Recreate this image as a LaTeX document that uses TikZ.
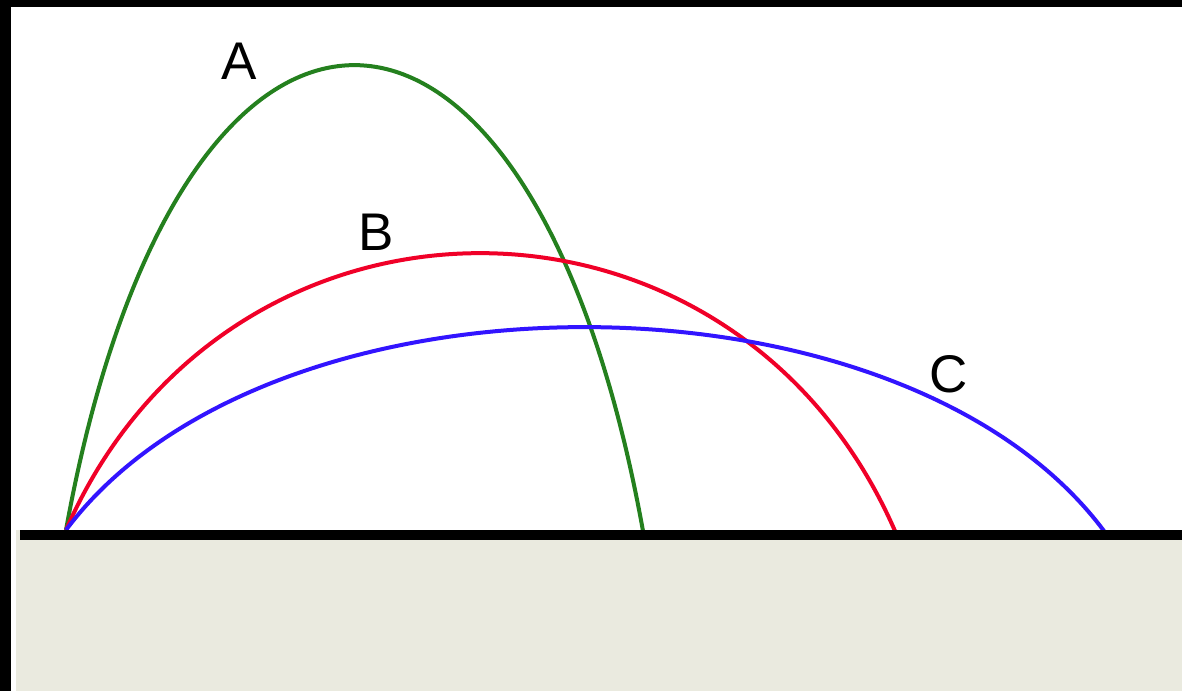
\documentclass[tikz,border=0pt]{standalone}
\usepackage{fontspec}
\setmainfont{Liberation Sans}
\definecolor{trajA}{RGB}{36,128,30}
\definecolor{trajB}{RGB}{240,0,40}
\definecolor{trajC}{RGB}{50,20,255}
\definecolor{soil}{RGB}{234,234,223}
\tikzset{
  traj/.style={line width=4pt},
  lbl/.style={inner sep=0pt, font=\fontsize{53}{53}\selectfont}
}
\begin{document}
\begin{tikzpicture}[x=1pt, y=-1pt]
\useasboundingbox (0,0) rectangle (1182,691);
% Frame and background
\fill[white] (0,0) rectangle (1182,691);
\fill[black] (0,0) rectangle (11,691);
\fill[black] (0,0) rectangle (1182,7);
\fill[soil] (16,530) rectangle (1182,691);
% Launch point
\coordinate (launch) at (66,530);
% Three trajectories with their labels
\foreach \name/\col/\ca/\cb/\cy/\ex/\lx/\ly in {A/trajA/178.5/530.5/-90/643/239/61,
    B/trajB/227.7/733.3/160.7/895/376/232, C/trajC/268.4/901.6/259.3/1104/949/374} {
  \draw[traj, \col] (launch) .. controls (\ca,\cy) and (\cb,\cy) .. (\ex,531);
  \node[lbl] (lab\name) at (\lx,\ly) {\name};
}
% Ground line
\fill[black] (20,530) rectangle (1182,540);
\end{tikzpicture}
\end{document}
